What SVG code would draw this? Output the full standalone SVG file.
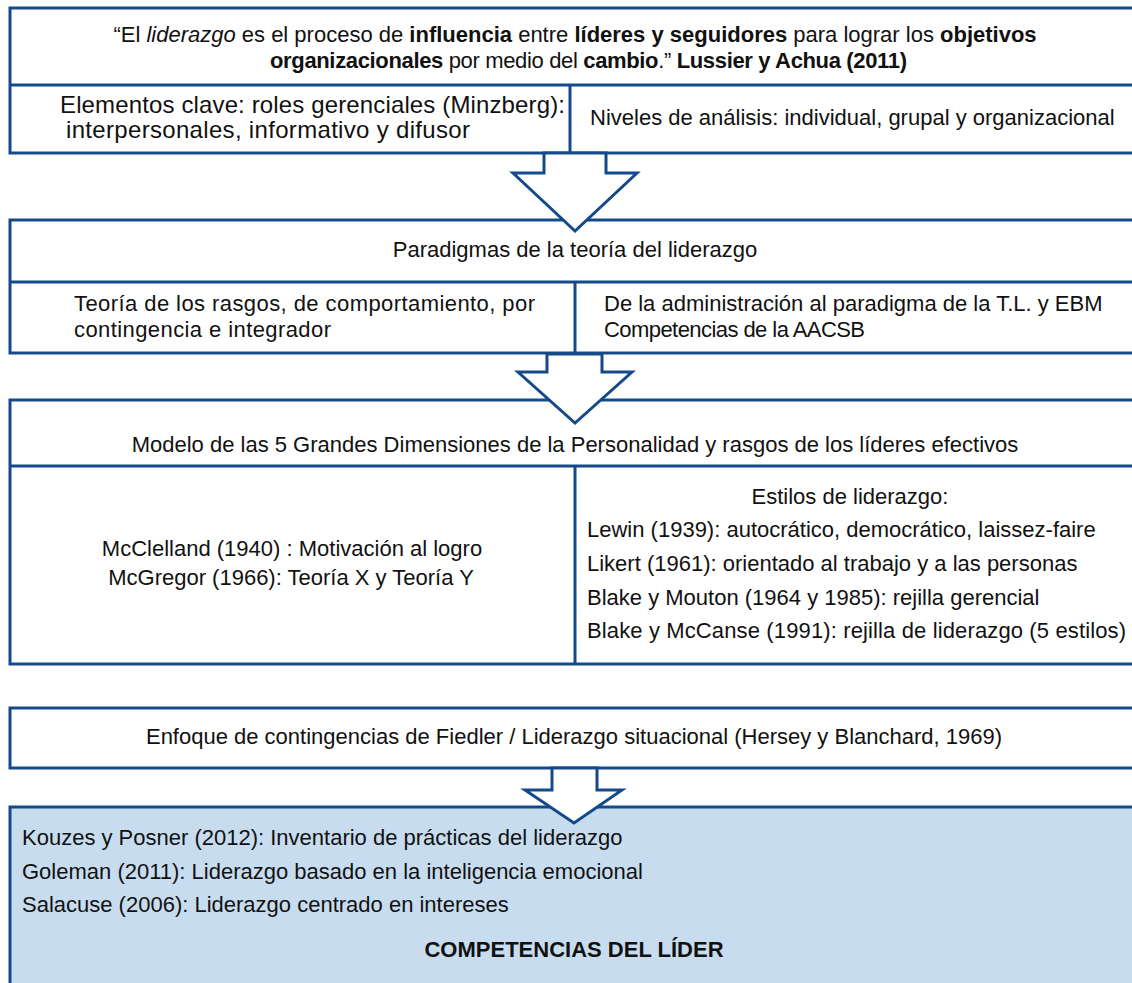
<svg xmlns="http://www.w3.org/2000/svg" width="1132" height="983" viewBox="0 0 1132 983">
  <style>
    .box { fill: #ffffff; stroke: #154a8a; stroke-width: 3; }
    .hl { fill: #c7ddef; stroke: #154a8a; stroke-width: 3; }
    .ln { stroke: #154a8a; stroke-width: 3; fill: none; }
    .arrow { fill: #ffffff; stroke: #154a8a; stroke-width: 3; stroke-linejoin: miter; }
    text { font-family: "Liberation Sans", Arial, sans-serif; font-size: 22px; fill: #111111; }
    .c { text-anchor: middle; }
    .b { font-weight: bold; }
    .i { font-style: italic; }
    .lg { font-size: 24px; }
  </style>

  <!-- Definition of leadership and key elements -->
  <g id="definicion">
    <rect class="box" x="10" y="8" width="1140" height="145"/>
    <line class="ln" x1="10" y1="85" x2="1150" y2="85"/>
    <line class="ln" x1="570" y1="85" x2="570" y2="153"/>
    <text class="c" x="575" y="42">“El <tspan class="i">liderazgo</tspan> es el proceso de <tspan class="b">influencia</tspan> entre <tspan class="b">líderes y seguidores</tspan> para lograr los <tspan class="b">objetivos</tspan></text>
    <text x="270" y="68" textLength="637" lengthAdjust="spacing"><tspan class="b">organizacionales</tspan> por medio del <tspan class="b">cambio</tspan>.” <tspan class="b">Lussier y Achua (2011)</tspan></text>
    <text class="lg" x="60" y="113" textLength="505" lengthAdjust="spacing">Elementos clave: roles gerenciales (Minzberg):</text>
    <text class="lg" x="66" y="138" textLength="404" lengthAdjust="spacing">interpersonales, informativo y difusor</text>
    <text x="590" y="125">Niveles de análisis: individual, grupal y organizacional</text>
  </g>

  <!-- Paradigms of leadership theory -->
  <g id="paradigmas">
    <rect class="box" x="10" y="220" width="1140" height="133"/>
    <line class="ln" x1="10" y1="282" x2="1150" y2="282"/>
    <line class="ln" x1="575" y1="282" x2="575" y2="353"/>
    <text class="c" x="575" y="257">Paradigmas de la teoría del liderazgo</text>
    <text x="74" y="311" textLength="461" lengthAdjust="spacing">Teoría de los rasgos, de comportamiento, por</text>
    <text x="74" y="337" textLength="257" lengthAdjust="spacing">contingencia e integrador</text>
    <text x="604" y="311">De la administración al paradigma de la T.L. y EBM</text>
    <text x="604" y="337" textLength="261" lengthAdjust="spacing">Competencias de la AACSB</text>
  </g>

  <!-- Big Five model and leadership styles -->
  <g id="modelo">
    <rect class="box" x="10" y="400" width="1140" height="264"/>
    <line class="ln" x1="10" y1="466" x2="1150" y2="466"/>
    <line class="ln" x1="575" y1="466" x2="575" y2="664"/>
    <text class="c" x="575" y="452">Modelo de las 5 Grandes Dimensiones de la Personalidad y rasgos de los líderes efectivos</text>
    <text class="c" x="292" y="556">McClelland (1940) : Motivación al logro</text>
    <text class="c" x="291" y="585">McGregor (1966): Teoría X y Teoría Y</text>
    <text class="c" x="850" y="504">Estilos de liderazgo:</text>
    <text x="587" y="537">Lewin (1939): autocrático, democrático, laissez-faire</text>
    <text x="587" y="571">Likert (1961): orientado al trabajo y a las personas</text>
    <text x="587" y="605">Blake y Mouton (1964 y 1985): rejilla gerencial</text>
    <text x="587" y="638" textLength="539" lengthAdjust="spacing">Blake y McCanse (1991): rejilla de liderazgo (5 estilos)</text>
  </g>

  <!-- Contingency approach -->
  <g id="contingencias">
    <rect class="box" x="10" y="708" width="1140" height="60"/>
    <text class="c" x="574" y="744">Enfoque de contingencias de Fiedler / Liderazgo situacional (Hersey y Blanchard, 1969)</text>
  </g>

  <!-- Leader competencies -->
  <g id="competencias">
    <rect class="hl" x="10" y="807" width="1140" height="200"/>
    <text x="22" y="845">Kouzes y Posner (2012): Inventario de prácticas del liderazgo</text>
    <text x="22" y="879">Goleman (2011): Liderazgo basado en la inteligencia emocional</text>
    <text x="22" y="912">Salacuse (2006): Liderazgo centrado en intereses</text>
    <text class="c b" x="574" y="957">COMPETENCIAS DEL LÍDER</text>
  </g>

  <!-- Block arrows between stages -->
  <g id="conectores">
    <polygon class="arrow" points="544,153 544,173 513,173 575,231 637,173 606,173 606,153"/>
    <polygon class="arrow" points="547,354 547,372 518,372 575,423 632,372 602,372 602,354"/>
    <polygon class="arrow" points="552,768 552,790 525,790 574,823 622,790 597,790 597,768"/>
  </g>
</svg>
